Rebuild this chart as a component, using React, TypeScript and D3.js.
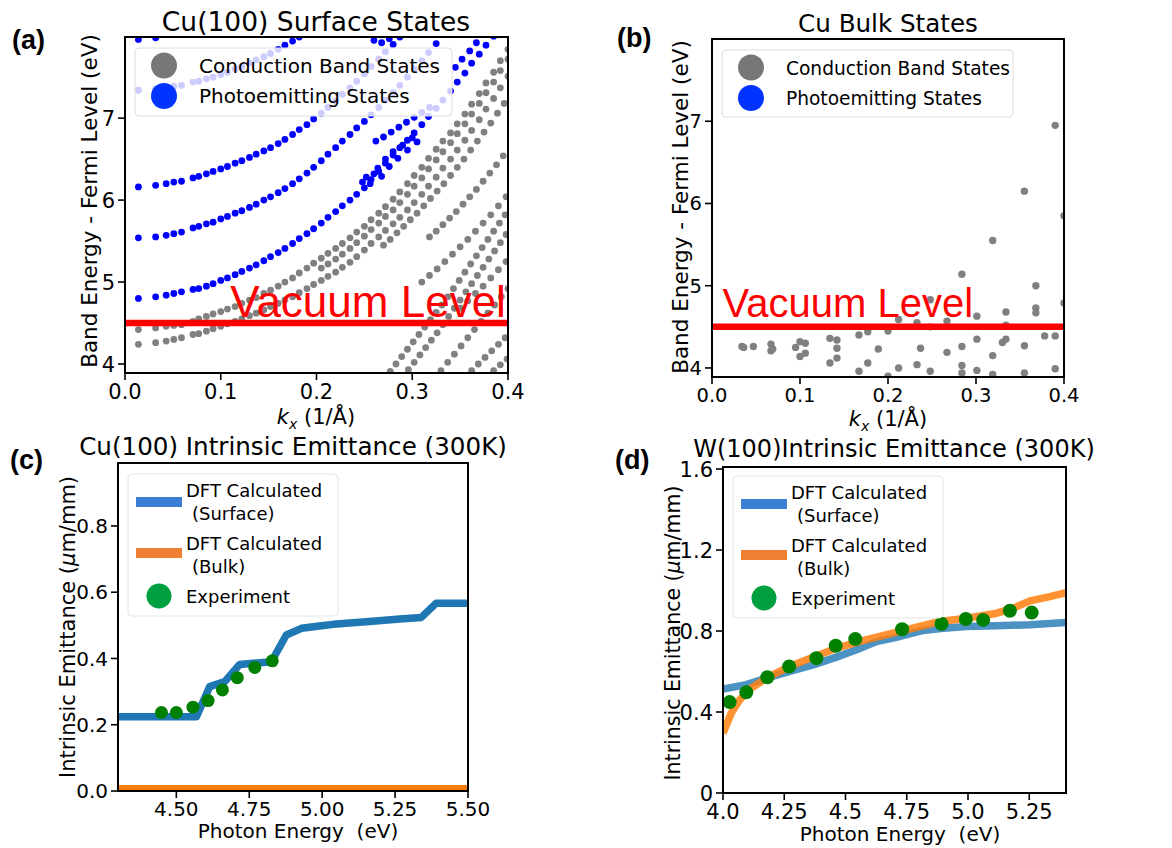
import React from 'react';
import * as d3 from 'd3';

const SANS = "'DejaVu Sans', sans-serif";
const ARIAL = "'Liberation Sans', Arial, sans-serif";

// ---------- (a) Cu(100) surface states ----------
const kTicks = [0, 0.1, 0.2, 0.3, 0.4];
const bandTicks = [4, 5, 6, 7];
const vacuumLevel = 4.5;

// k points where the long bands are sampled
const kGrid = [0.014, 0.032, 0.043, 0.051, 0.059, 0.071, 0.077, 0.085, 0.092, 0.1,
  0.107, 0.115, 0.122, 0.13, 0.137, 0.145, 0.152, 0.16, 0.167, 0.175,
  0.182, 0.19, 0.197, 0.205, 0.212, 0.22, 0.227, 0.235, 0.242, 0.25,
  0.257, 0.265, 0.272, 0.28, 0.287, 0.295, 0.302, 0.31, 0.317, 0.325,
  0.332, 0.34, 0.347, 0.355, 0.362, 0.37, 0.377, 0.385, 0.392, 0.4];

const blueBand1 = [4.80, 4.82, 4.84, 4.86, 4.88, 4.91, 4.92, 4.95, 4.98, 5.02,
  5.05, 5.09, 5.13, 5.17, 5.21, 5.26, 5.31, 5.36, 5.41, 5.47,
  5.53, 5.59, 5.65, 5.72, 5.79, 5.86, 5.93, 6.00, 6.07, 6.15,
  6.25, 6.35, 6.45, 6.55, 6.64, 6.73, 6.82, 6.92, 7.02, 7.12,
  7.22, 7.33, 7.44, 7.55, 7.67, 7.78, 7.89, 8.0];
const blueBand2 = [5.54, 5.55, 5.57, 5.59, 5.61, 5.66, 5.68, 5.71, 5.73, 5.77,
  5.80, 5.84, 5.87, 5.91, 5.95, 6.00, 6.04, 6.09, 6.14, 6.20,
  6.26, 6.33, 6.40, 6.48, 6.56, 6.64, 6.72, 6.80, 6.88, 6.96,
  7.04, 7.13, 7.22, 7.31, 7.40, 7.50, 7.60, 7.70, 7.80, 7.91, 8.02];
const blueBand3 = [6.16, 6.18, 6.20, 6.22, 6.23, 6.27, 6.29, 6.32, 6.35, 6.38,
  6.41, 6.45, 6.48, 6.52, 6.56, 6.60, 6.64, 6.69, 6.74, 6.80,
  6.86, 6.92, 6.99, 7.06, 7.13, 7.21, 7.29, 7.37, 7.45, 7.54,
  7.63, 7.72, 7.81, 7.90, 7.99];
const blueBand4 = [7.34, 7.36, 7.37, 7.39, 7.40, 7.44, 7.45, 7.48, 7.50, 7.53,
  7.56, 7.60, 7.63, 7.67, 7.71, 7.75, 7.79, 7.84, 7.89, 7.94, 7.99];
const blueBand5 = [7.96, 7.98];

const grayBandA = [4.24, 4.26, 4.28, 4.30, 4.32, 4.36, 4.37, 4.40, 4.43, 4.46,
  4.49, 4.52, 4.55, 4.59, 4.62, 4.66, 4.70, 4.74, 4.78, 4.82,
  4.87, 4.92, 4.97, 5.02, 5.07, 5.12, 5.18, 5.24, 5.31, 5.39,
  5.47, 5.55, 5.63, 5.71, 5.79, 5.88, 5.97, 6.07, 6.17, 6.28,
  6.39, 6.50, 6.61, 6.73, 6.85, 6.98, 7.11, 7.24, 7.37, 7.51];
const grayBandB = [4.42, 4.44, 4.46, 4.47, 4.48, 4.52, 4.55, 4.58, 4.61, 4.64,
  4.67, 4.70, 4.74, 4.78, 4.81, 4.86, 4.90, 4.95, 5.00, 5.05,
  5.11, 5.17, 5.23, 5.29, 5.35, 5.41, 5.47, 5.54, 5.61, 5.68,
  5.76, 5.84, 5.92, 6.01, 6.10, 6.20, 6.30, 6.40, 6.51, 6.62,
  6.72, 6.82, 6.93, 7.05, 7.17, 7.30, 7.43, 7.56, 7.70, 7.84];
const grayBandC = [null, null, null, null, null, null, null, null, null, null,
  null, null, null, null, null, null, null, null, null, null,
  null, null, null, 5.17, 5.22, 5.28, 5.34, 5.41, 5.48, 5.56,
  5.64, 5.72, 5.80, 5.88, 5.97, 6.07, 6.17, 6.27, 6.38, 6.49,
  6.59, 6.70, 6.81, 6.93, 7.05, 7.18, 7.31, 7.44, 7.58, 7.72];

// shorter chains of states, [k, E]
const blueCluster: [number, number][] = [[0.248, 6.22], [0.252, 6.28], [0.256, 6.20], [0.26, 6.32],
  [0.264, 6.39], [0.268, 6.29], [0.272, 6.50], [0.276, 6.41], [0.28, 6.59], [0.285, 6.51],
  [0.29, 6.67], [0.295, 6.61], [0.3, 6.76], [0.305, 6.71]];
const blueChainB: [number, number][] = [[0.262, 6.72], [0.27, 6.77], [0.278, 6.83], [0.286, 6.89],
  [0.294, 6.95], [0.302, 7.01], [0.31, 7.07], [0.318, 7.13]];
const blueChainC: [number, number][] = [[0.345, 7.62], [0.352, 7.72], [0.36, 7.82], [0.367, 7.92],
  [0.26, 7.95], [0.268, 7.92], [0.276, 7.97]];

const grayChainS: [number, number][] = [[0.27, 5.45], [0.277, 5.52], [0.284, 5.60], [0.291, 5.68],
  [0.298, 5.76], [0.305, 5.84], [0.312, 5.93], [0.319, 6.02], [0.326, 6.11], [0.333, 6.20],
  [0.34, 6.30], [0.347, 6.40], [0.354, 6.50], [0.361, 6.61], [0.368, 6.72], [0.375, 6.83],
  [0.382, 6.94], [0.389, 7.06], [0.396, 7.18]];
const grayChainT: [number, number][] = [[0.318, 5.55], [0.325, 5.62], [0.332, 5.70], [0.339, 5.78],
  [0.346, 5.86], [0.353, 5.95], [0.36, 6.04], [0.367, 6.13], [0.374, 6.23], [0.381, 6.33],
  [0.388, 6.43], [0.395, 6.54]];
const grayChainM1: [number, number][] = [[0.31, 5.0], [0.318, 5.08], [0.326, 5.16], [0.334, 5.25],
  [0.342, 5.34], [0.35, 5.43], [0.358, 5.52], [0.366, 5.62], [0.374, 5.72], [0.382, 5.82],
  [0.39, 5.93], [0.398, 6.04]];
const grayChainM2: [number, number][] = [[0.35, 4.68], [0.358, 4.77], [0.366, 4.86], [0.374, 4.95],
  [0.382, 5.05], [0.39, 5.15], [0.398, 5.25]];
const grayChainL1: [number, number][] = [[0.277, 3.91], [0.283, 4.0], [0.289, 4.09], [0.295, 4.18],
  [0.301, 4.27], [0.307, 4.36], [0.313, 4.45], [0.319, 4.54], [0.325, 4.63], [0.331, 4.72],
  [0.337, 4.82], [0.343, 4.92], [0.349, 5.02], [0.355, 5.12], [0.361, 5.22], [0.367, 5.32],
  [0.373, 5.42], [0.379, 5.52], [0.385, 5.62], [0.391, 5.72], [0.397, 5.82]];
const grayChainL2: [number, number][] = [[0.296, 3.93], [0.302, 4.02], [0.308, 4.11], [0.314, 4.20],
  [0.32, 4.29], [0.326, 4.38], [0.332, 4.48], [0.338, 4.58], [0.344, 4.68], [0.35, 4.78],
  [0.356, 4.88], [0.362, 4.98], [0.368, 5.08], [0.374, 5.18], [0.38, 5.28], [0.386, 5.38],
  [0.392, 5.48], [0.398, 5.58]];
const grayChainL3: [number, number][] = [[0.33, 3.92], [0.337, 4.02], [0.344, 4.12], [0.351, 4.22],
  [0.358, 4.32], [0.365, 4.42], [0.372, 4.52], [0.379, 4.62], [0.386, 4.72], [0.393, 4.82], [0.4, 4.92]];
const grayChainL4: [number, number][] = [[0.362, 3.92], [0.369, 4.0], [0.376, 4.08], [0.383, 4.16],
  [0.39, 4.24], [0.397, 4.32], [0.385, 3.92], [0.392, 3.99], [0.399, 4.06]];

// ---------- (b) Cu bulk states ----------
const bulkStates: [number, number][] = [[0.034, 4.26], [0.036, 4.25], [0.047, 4.26], [0.067, 4.29],
  [0.069, 4.23], [0.067, 4.21], [0.095, 4.25], [0.1, 4.32], [0.106, 4.30], [0.1, 4.14],
  [0.106, 4.18], [0.134, 4.36], [0.142, 4.34], [0.142, 4.24], [0.142, 4.12], [0.134, 4.06],
  [0.167, 4.40], [0.177, 4.44], [0.177, 4.06], [0.167, 3.96], [0.189, 4.23], [0.2, 4.45],
  [0.212, 4.59], [0.212, 4.0], [0.2, 3.9], [0.237, 4.24], [0.233, 4.04], [0.248, 4.83],
  [0.248, 3.96], [0.233, 4.55], [0.267, 4.57], [0.267, 4.19], [0.284, 5.14], [0.284, 4.26],
  [0.284, 4.03], [0.284, 3.94], [0.301, 4.63], [0.301, 4.35], [0.301, 3.97], [0.319, 5.55],
  [0.319, 4.15], [0.319, 3.92], [0.334, 4.68], [0.334, 4.52], [0.334, 4.35], [0.33, 4.31],
  [0.355, 6.15], [0.355, 4.27], [0.355, 3.94], [0.368, 5.0], [0.368, 4.73], [0.368, 4.67],
  [0.378, 4.39], [0.39, 6.95], [0.39, 4.39], [0.39, 3.99], [0.4, 5.85], [0.4, 4.79], [0.248, 4.5]];

// ---------- (c) Cu(100) intrinsic emittance ----------
const cuPhotonTicks = [4.5, 4.75, 5.0, 5.25, 5.5];
const cuEmitTicks = [0, 0.2, 0.4, 0.6, 0.8];
const cuSurfPhoton = [4.3, 4.569, 4.614, 4.666, 4.717, 4.826, 4.877, 4.929, 4.991, 5.037, 5.151, 5.266, 5.34, 5.391, 5.5];
const cuSurface = [0.224, 0.224, 0.315, 0.33, 0.382, 0.39, 0.471, 0.491, 0.498, 0.503, 0.511, 0.519, 0.524, 0.567, 0.567];
const cuBulkPhoton = [4.3, 5.5];
const cuBulk = [0.007, 0.007];
const cuExpPhoton = [4.449, 4.5, 4.557, 4.609, 4.658, 4.709, 4.769, 4.829];
const cuExp = [0.237, 0.237, 0.253, 0.273, 0.305, 0.342, 0.373, 0.393];

// ---------- (d) W(100) intrinsic emittance ----------
const wPhotonTicks = [4.0, 4.25, 4.5, 4.75, 5.0, 5.25];
const wPhotonLabels = ['4.0', '4.25', '4.5', '4.75', '5.0', '5.25'];
const wEmitTicks = [0, 0.4, 0.8, 1.2, 1.6];
const wEmitLabels = ['0', '0.4', '0.8', '1.2', '1.6'];
const wSurfPhoton = [4.0, 4.095, 4.177, 4.272, 4.368, 4.463, 4.545, 4.626, 4.722, 4.817, 4.899, 4.994, 5.117, 5.253, 5.4];
const wSurface = [0.513, 0.535, 0.567, 0.6, 0.633, 0.671, 0.707, 0.748, 0.773, 0.803, 0.814, 0.822, 0.826, 0.831, 0.842];
const wBulkPhoton = [4.0, 4.034, 4.068, 4.109, 4.177, 4.272, 4.368, 4.463, 4.586, 4.722, 4.885, 4.994, 5.117, 5.185, 5.253, 5.334, 5.4];
const wBulk = [0.296, 0.395, 0.46, 0.513, 0.567, 0.625, 0.671, 0.715, 0.757, 0.798, 0.847, 0.863, 0.888, 0.913, 0.949, 0.97, 0.99];
const wExpPhoton = [4.027, 4.095, 4.181, 4.27, 4.381, 4.46, 4.54, 4.731, 4.892, 4.991, 5.062, 5.171, 5.26];
const wExp = [0.449, 0.497, 0.572, 0.625, 0.666, 0.727, 0.76, 0.809, 0.836, 0.859, 0.855, 0.9, 0.891];

type Box = { left: number; right: number; top: number; bottom: number };

const Frame = ({ box, x, y, xTicks, yTicks, xFmt, yFmt, fs, id }: any) => (
  <g fontFamily={SANS} fontSize={fs}>
    {xTicks.map((t: number, i: number) => (
      <g key={'x' + i}>
        <line x1={x(t)} x2={x(t)} y1={box.bottom} y2={box.bottom + 7} stroke="#000" strokeWidth={1.6} />
        <text x={x(t)} y={box.bottom + 10.5 + fs * 0.73} textAnchor="middle">{xFmt(t, i)}</text>
      </g>
    ))}
    {yTicks.map((t: number, i: number) => (
      <g key={'y' + i}>
        <line x1={box.left - 7} x2={box.left} y1={y(t)} y2={y(t)} stroke="#000" strokeWidth={1.6} />
        <text x={box.left - 10} y={y(t)} dy="0.36em" textAnchor="end">{yFmt(t, i)}</text>
      </g>
    ))}
    <rect x={box.left} y={box.top} width={box.right - box.left} height={box.bottom - box.top}
      fill="none" stroke="#000" strokeWidth={2} />
    <clipPath id={id}>
      <rect x={box.left} y={box.top} width={box.right - box.left} height={box.bottom - box.top} />
    </clipPath>
  </g>
);

const StatesLegend = ({ x0, y0, w, h, fs }: any) => (
  <g fontFamily={SANS} fontSize={fs}>
    <rect x={x0} y={y0} width={w} height={h} rx={4} fill="#fff" fillOpacity={0.8} stroke="#dcdcdc" />
    <circle cx={x0 + 29} cy={y0 + 17.5} r={13} fill="#777" />
    <circle cx={x0 + 29} cy={y0 + 48} r={13} fill="#0033ff" />
    <text x={x0 + 64} y={y0 + 24.5}>Conduction Band States</text>
    <text x={x0 + 64} y={y0 + 55}>Photoemitting States</text>
  </g>
);

const EmitLegend = ({ x0, y0 }: any) => (
  <g fontFamily={SANS} fontSize={18}>
    <rect x={x0} y={y0} width={210} height={142} rx={4} fill="#fff" fillOpacity={0.8} stroke="#e4e4e4" />
    <line x1={x0 + 8} x2={x0 + 54} y1={y0 + 28} y2={y0 + 28} stroke="#3b7fd4" strokeWidth={10} />
    <text x={x0 + 58} y={y0 + 23}>DFT Calculated</text>
    <text x={x0 + 64} y={y0 + 46}>(Surface)</text>
    <line x1={x0 + 8} x2={x0 + 54} y1={y0 + 79} y2={y0 + 79} stroke="#ef7f32" strokeWidth={10} />
    <text x={x0 + 58} y={y0 + 76}>DFT Calculated</text>
    <text x={x0 + 64} y={y0 + 99}>(Bulk)</text>
    <circle cx={x0 + 31} cy={y0 + 122} r={12.5} fill="#00a040" />
    <text x={x0 + 58} y={y0 + 129}>Experiment</text>
  </g>
);

const kLabel = (cx: number, y: number) => (
  <text x={cx} y={y} textAnchor="middle" fontFamily={SANS} fontSize={21}>
    <tspan fontStyle="italic">k</tspan>
    <tspan fontStyle="italic" fontSize={14} dy={5}>x</tspan>
    <tspan dy={-5}> (1/Å)</tspan>
  </text>
);

const PanelA = () => {
  const box: Box = { left: 125, right: 508, top: 37, bottom: 373 };
  const x = d3.scaleLinear().domain([0, 0.4]).range([box.left, box.right]);
  const y = d3.scaleLinear().domain([3.89, 7.99]).range([box.bottom, box.top]);
  const gridDots = (band: (number | null)[], color: string, key: string) =>
    band.map((e, i) => (e == null ? null :
      <circle key={key + i} cx={x(kGrid[i])} cy={y(e)} r={3.4} fill={color} />));
  const pairDots = (pts: [number, number][], color: string, key: string) =>
    pts.map((p, i) => <circle key={key + i} cx={x(p[0])} cy={y(p[1])} r={3.4} fill={color} />);
  return (
    <g>
      <g clipPath="url(#clipA)">
        {gridDots(grayBandA, '#808080', 'ga')}
        {gridDots(grayBandB, '#808080', 'gb')}
        {gridDots(grayBandC, '#808080', 'gc')}
        {pairDots(grayChainS, '#808080', 's')}
        {pairDots(grayChainT, '#808080', 't')}
        {pairDots(grayChainM1, '#808080', 'm1')}
        {pairDots(grayChainM2, '#808080', 'm2')}
        {pairDots(grayChainL1, '#808080', 'l1')}
        {pairDots(grayChainL2, '#808080', 'l2')}
        {pairDots(grayChainL3, '#808080', 'l3')}
        {pairDots(grayChainL4, '#808080', 'l4')}
        {gridDots(blueBand1, '#0000ff', 'b1')}
        {gridDots(blueBand2, '#0000ff', 'b2')}
        {gridDots(blueBand3, '#0000ff', 'b3')}
        {gridDots(blueBand4, '#0000ff', 'b4')}
        {gridDots(blueBand5, '#0000ff', 'b5')}
        {pairDots(blueCluster, '#0000ff', 'bc')}
        {pairDots(blueChainB, '#0000ff', 'bb')}
        {pairDots(blueChainC, '#0000ff', 'bcc')}
        <line x1={box.left} x2={box.right} y1={y(vacuumLevel)} y2={y(vacuumLevel)} stroke="#ff0000" strokeWidth={6.5} />
        <text x={x(0.11)} y={y(4.573)} fill="#ff0000" fontFamily={ARIAL} fontSize={44}>Vacuum Level</text>
      </g>
      <Frame box={box} x={x} y={y} xTicks={kTicks} yTicks={bandTicks} id="clipA" fs={21}
        xFmt={(t: number) => t.toFixed(1)} yFmt={(t: number) => String(t)} />
      <StatesLegend x0={135} y0={48} w={317} h={68} fs={20} />
      <text x={316} y={31} textAnchor="middle" fontFamily={SANS} fontSize={26.5}>Cu(100) Surface States</text>
      <text transform="translate(97,201) rotate(-90)" textAnchor="middle" fontFamily={SANS} fontSize={21.5}>Band Energy - Fermi Level (eV)</text>
      {kLabel(316, 424)}
      <text x={12} y={49} fontFamily={ARIAL} fontWeight="bold" fontSize={27}>(a)</text>
    </g>
  );
};

const PanelB = () => {
  const box: Box = { left: 712, right: 1064, top: 39, bottom: 377 };
  const x = d3.scaleLinear().domain([0, 0.4]).range([box.left, box.right]);
  const y = d3.scaleLinear().domain([3.89, 8.0]).range([box.bottom, box.top]);
  return (
    <g>
      <g clipPath="url(#clipB)">
        {bulkStates.map((p, i) => <circle key={i} cx={x(p[0])} cy={y(p[1])} r={3.7} fill="#808080" />)}
        <line x1={box.left} x2={box.right} y1={y(vacuumLevel)} y2={y(vacuumLevel)} stroke="#ff0000" strokeWidth={6.5} />
        <text x={x(0.012)} y={y(4.623)} fill="#ff0000" fontFamily={ARIAL} fontSize={40}>Vacuum Level</text>
      </g>
      <Frame box={box} x={x} y={y} xTicks={kTicks} yTicks={bandTicks} id="clipB" fs={19.5}
        xFmt={(t: number) => t.toFixed(1)} yFmt={(t: number) => String(t)} />
      <StatesLegend x0={722} y0={50} w={291} h={67} fs={18.6} />
      <text x={888} y={32} textAnchor="middle" fontFamily={SANS} fontSize={24.6}>Cu Bulk States</text>
      <text transform="translate(688,207) rotate(-90)" textAnchor="middle" fontFamily={SANS} fontSize={21.5}>Band Energy - Fermi Level (eV)</text>
      {kLabel(888, 426)}
      <text x={617} y={47} fontFamily={ARIAL} fontWeight="bold" fontSize={27}>(b)</text>
    </g>
  );
};

const PanelC = () => {
  const box: Box = { left: 118, right: 468, top: 463, bottom: 791 };
  const x = d3.scaleLinear().domain([4.3, 5.5]).range([box.left, box.right]);
  const y = d3.scaleLinear().domain([0, 0.99]).range([box.bottom, box.top]);
  const line = (xs: number[], ys: number[]) => d3.line<number>().x((d) => x(d)).y((_, i) => y(ys[i]))(xs) as string;
  return (
    <g>
      <g clipPath="url(#clipC)">
        <path d={line(cuSurfPhoton, cuSurface)} fill="none" stroke="#1f77b4" strokeWidth={7.5} strokeLinejoin="round" />
        <path d={line(cuBulkPhoton, cuBulk)} fill="none" stroke="#ff7f0e" strokeWidth={7.5} />
        {cuExpPhoton.map((p, i) => <circle key={i} cx={x(p)} cy={y(cuExp[i])} r={6.5} fill="#008000" />)}
      </g>
      <Frame box={box} x={x} y={y} xTicks={cuPhotonTicks} yTicks={cuEmitTicks} id="clipC" fs={20}
        xFmt={(t: number) => t.toFixed(2)} yFmt={(t: number) => t.toFixed(1)} />
      <EmitLegend x0={128} y0={474} />
      <text x={293} y={455} textAnchor="middle" fontFamily={SANS} fontSize={24.6}>Cu(100) Intrinsic Emittance (300K)</text>
      <text transform="translate(75,627) rotate(-90)" textAnchor="middle" fontFamily={SANS} fontSize={21}>
        Intrinsic Emittance (<tspan fontStyle="italic">μ</tspan>m/mm)
      </text>
      <text x={298} y={838} textAnchor="middle" fontFamily={SANS} fontSize={20} style={{ whiteSpace: 'pre' }}>Photon Energy  (eV)</text>
      <text x={10} y={469} fontFamily={ARIAL} fontWeight="bold" fontSize={27}>(c)</text>
    </g>
  );
};

const PanelD = () => {
  const box: Box = { left: 723, right: 1066, top: 467, bottom: 793 };
  const x = d3.scaleLinear().domain([4.0, 5.4]).range([box.left, box.right]);
  const y = d3.scaleLinear().domain([0, 1.61]).range([box.bottom, box.top]);
  const line = (xs: number[], ys: number[]) => d3.line<number>().x((d) => x(d)).y((_, i) => y(ys[i]))(xs) as string;
  return (
    <g>
      <g clipPath="url(#clipD)">
        <path d={line(wSurfPhoton, wSurface)} fill="none" stroke="#1f77b4" strokeOpacity={0.8} strokeWidth={7.5} strokeLinejoin="round" />
        <path d={line(wBulkPhoton, wBulk)} fill="none" stroke="#ff7f0e" strokeOpacity={0.85} strokeWidth={7.5} strokeLinejoin="round" />
        {wExpPhoton.map((p, i) => <circle key={i} cx={x(p)} cy={y(wExp[i])} r={7} fill="#008000" />)}
      </g>
      <Frame box={box} x={x} y={y} xTicks={wPhotonTicks} yTicks={wEmitTicks} id="clipD" fs={21}
        xFmt={(_: number, i: number) => wPhotonLabels[i]} yFmt={(_: number, i: number) => wEmitLabels[i]} />
      <EmitLegend x0={733} y0={476} />
      <text x={894} y={457} textAnchor="middle" fontFamily={SANS} fontSize={24}>W(100)Intrinsic Emittance (300K)</text>
      <text transform="translate(680,633) rotate(-90)" textAnchor="middle" fontFamily={SANS} fontSize={20.5}>
        Intrinsic Emittance (<tspan fontStyle="italic">μ</tspan>m/mm)
      </text>
      <text x={900} y={841} textAnchor="middle" fontFamily={SANS} fontSize={20} style={{ whiteSpace: 'pre' }}>Photon Energy  (eV)</text>
      <text x={615} y={469} fontFamily={ARIAL} fontWeight="bold" fontSize={27}>(d)</text>
    </g>
  );
};

export default function App() {
  return (
    <svg width={1172} height={848} style={{ position: 'absolute', left: 0, top: 0, background: '#fff' }}>
      <rect width={1172} height={848} fill="#fff" />
      <PanelA />
      <PanelB />
      <PanelC />
      <PanelD />
    </svg>
  );
}
